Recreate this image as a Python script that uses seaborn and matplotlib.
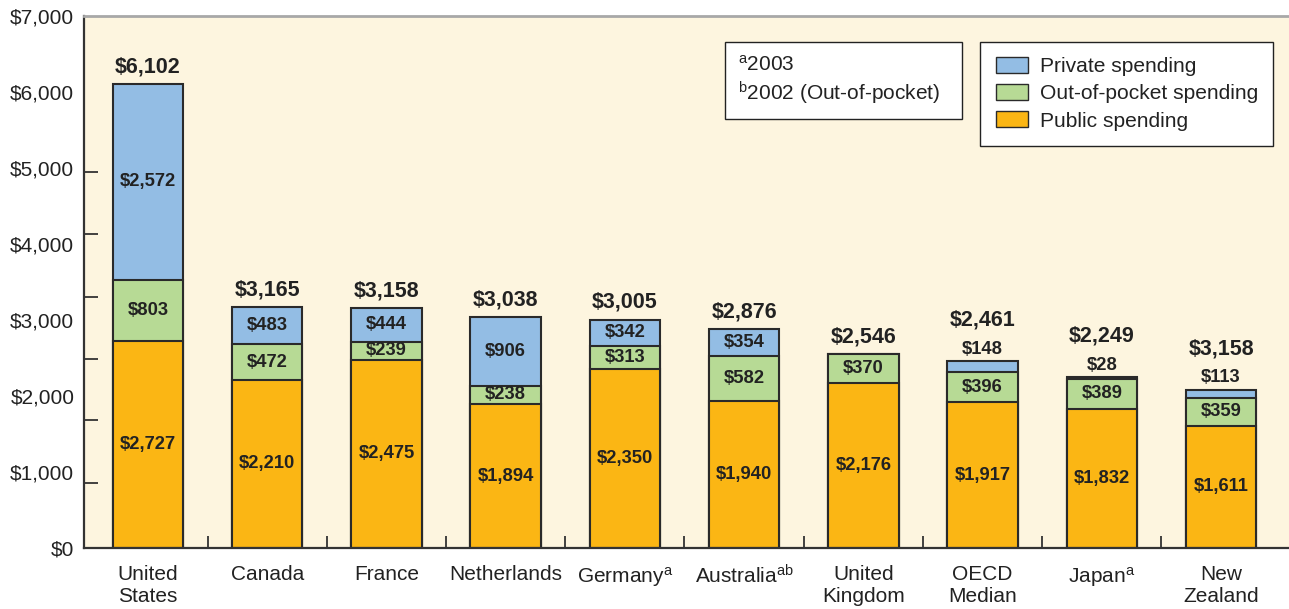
import numpy as np
import pandas as pd
import matplotlib
matplotlib.use("Agg")
import matplotlib.pyplot as plt
from matplotlib.patches import Patch, Rectangle
import seaborn as sns

# ---------------- data ----------------
countries = ["United\nStates", "Canada", "France", "Netherlands", r"Germany$^{\mathrm{a}}$",
             r"Australia$^{\mathrm{ab}}$", "United\nKingdom", "OECD\nMedian",
             r"Japan$^{\mathrm{a}}$", "New\nZealand"]
public = [2727, 2210, 2475, 1894, 2350, 1940, 2176, 1917, 1832, 1611]
out_of_pocket = [803, 472, 239, 238, 313, 582, 370, 396, 389, 359]
private = [2572, 483, 444, 906, 342, 354, 0, 148, 28, 113]
total_labels = ["$6,102", "$3,165", "$3,158", "$3,038", "$3,005", "$2,876",
                "$2,546", "$2,461", "$2,249", "$3,158"]
y_ticks = [0, 1000, 2000, 3000, 4000, 5000, 6000, 7000]
series_names = ["Private spending", "Out-of-pocket spending", "Public spending"]
footnotes = [r"$^{\mathrm{a}}$2003", r"$^{\mathrm{b}}$2002 (Out-of-pocket)"]

# ---------------- style ----------------
sns.set_theme(style="white")
plt.rcParams["font.family"] = ["Liberation Sans", "DejaVu Sans"]
plt.rcParams["mathtext.fontset"] = "custom"
plt.rcParams["mathtext.rm"] = "Liberation Sans"
plt.rcParams["mathtext.it"] = "Liberation Sans:italic"
plt.rcParams["mathtext.bf"] = "Liberation Sans:bold"

BG = "#FDF5DF"
BLUE = "#93BDE4"
GREEN = "#B7DA95"
ORANGE = "#FBB614"
EDGE = "#2a2a2a"
TXT = "#222222"

df = pd.DataFrame({
    "country": [f"c{i}" for i in range(len(countries))],
    "public": public,
    "oop": out_of_pocket,
    "private": private,
})
df["c2"] = df["public"] + df["oop"]
df["c3"] = df["c2"] + df["private"]

fig = plt.figure(figsize=(12.89, 6.09), dpi=100)
ax = fig.add_axes([0.0652, 0.1002, 0.9348, 0.8736])
ax.set_facecolor(BG)

common = dict(data=df, x="country", saturation=1, edgecolor=EDGE, linewidth=1.5,
              width=0.59, errorbar=None, ax=ax)
sns.barplot(y="c3", color=BLUE, **common)
sns.barplot(y="c2", color=GREEN, **common)
sns.barplot(y="public", color=ORANGE, **common)

ax.set_xlim(-0.536, 9.57)
ax.set_ylim(0, 7000)
ax.set_xlabel("")
ax.set_ylabel("")

# axes ticks
ax.set_yticks(y_ticks)
ax.set_yticklabels([f"${v:,}" for v in y_ticks], fontsize=15, color=TXT)
ax.set_yticks([860, 1680, 2480, 3300, 4130, 4950, 6000], minor=True)
ax.tick_params(axis="y", which="major", length=0, pad=7)
ax.tick_params(axis="y", which="minor", direction="in", length=10, width=1.3,
               color="#333333", left=True)
ax.set_xticks(range(len(countries)))
ax.set_xticklabels(countries, fontsize=15, color=TXT, linespacing=1.2)
ax.set_xticks(np.arange(0.5, len(countries) - 1, 1), minor=True)
ax.tick_params(axis="x", which="major", length=0, pad=12)
ax.tick_params(axis="x", which="minor", direction="in", length=8.5, width=1.3,
               color="#333333", bottom=True)

for s in ["left", "bottom"]:
    ax.spines[s].set_color("#333333")
    ax.spines[s].set_linewidth(1.6)
ax.spines["top"].set_color("#A8A8A8")
ax.spines["top"].set_linewidth(2)
ax.spines["right"].set_visible(False)

# value labels
bold = dict(ha="center", va="center", fontweight="bold", color=TXT,
            textcoords="offset points")
for i in range(len(countries)):
    p, o, r = public[i], out_of_pocket[i], private[i]
    ax.annotate(f"${p:,}", (i, p / 2), xytext=(0, 0), fontsize=13.2, **bold)
    ax.annotate(f"${o:,}", (i, p + o / 2), xytext=(0, 0), fontsize=13.2, **bold)
    top = p + o + r
    small = 0 < r < 200
    if r >= 200:
        ax.annotate(f"${r:,}", (i, p + o + r / 2), xytext=(0, 0), fontsize=13.2, **bold)
    elif small:
        ax.annotate(f"${r:,}", (i, top), xytext=(0, 8.5), fontsize=13.2, **bold)
    ax.annotate(total_labels[i], (i, top), xytext=(0, 29.5 if small else 12.5),
                fontsize=15.5, **bold)

# legend
handles = [Patch(facecolor=c, edgecolor=EDGE, linewidth=1.0)
           for c in (BLUE, GREEN, ORANGE)]
leg = ax.legend(handles, series_names, loc="upper right",
                bbox_to_anchor=(0.9867, 0.951), borderaxespad=0, fontsize=15.1,
                frameon=True, fancybox=False, handlelength=1.55, handleheight=0.78,
                handletextpad=0.55, labelspacing=0.38, borderpad=0.72)
leg.get_frame().set_edgecolor("#222222")
leg.get_frame().set_linewidth(1.0)
leg.get_frame().set_facecolor("white")
leg.get_frame().set_alpha(1)
for t in leg.get_texts():
    t.set_color(TXT)

# footnote box
ax.add_patch(Rectangle((0.532, 0.806), 0.1967, 0.145, transform=ax.transAxes,
                       facecolor="white", edgecolor="#222222", linewidth=1.0,
                       zorder=5))
for j, txt in enumerate(footnotes):
    ax.text(0.5427, 0.908 - j * 0.053, txt, transform=ax.transAxes, fontsize=15,
            color=TXT, va="center", ha="left", zorder=6)

fig.savefig("out.png", dpi=100, facecolor="white")
